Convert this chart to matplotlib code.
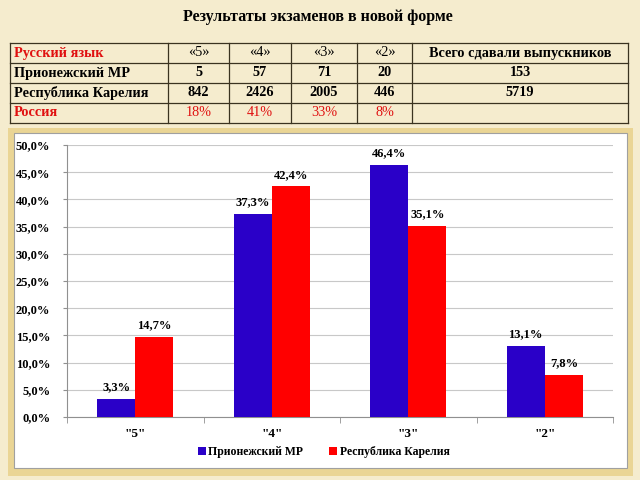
import matplotlib
matplotlib.use("Agg")
import matplotlib.pyplot as plt
from matplotlib.patches import Rectangle
import numpy as np

plt.rcParams['font.family'] = ['Liberation Serif', 'DejaVu Serif']

title = "Результаты экзаменов в новой форме"

# таблица
header = ["Русский язык", "«5»", "«4»", "«3»", "«2»", "Всего сдавали выпускников"]
row_mr = ["Прионежский МР", "5", "57", "71", "20", "153"]
row_kar = ["Республика Карелия", "842", "2426", "2005", "446", "5719"]
row_rus = ["Россия", "18%", "41%", "33%", "8%", ""]

# диаграмма
categories = ['"5"', '"4"', '"3"', '"2"']
series_names = ["Прионежский МР", "Республика Карелия"]
mr_values = [3.3, 37.3, 46.4, 13.1]
kar_values = [14.7, 42.4, 35.1, 7.8]

bg = "#f5ecce"
blue = "#2a00c8"
red = "#ff0000"

fig = plt.figure(figsize=(6.4, 4.8), dpi=100)
fig.patch.set_facecolor(bg)

# слой в пиксельных координатах
ov = fig.add_axes([0, 0, 1, 1])
ov.set_xlim(0, 640)
ov.set_ylim(480, 0)
ov.axis("off")

ov.text(318, 17, title, ha="center", va="center", fontsize=11.5, fontweight="bold")

col_x = [10, 168, 229, 291, 357, 412, 628]
row_y = [43, 63, 83, 103, 123]
for x in col_x:
    ov.plot([x, x], [row_y[0], row_y[-1]], color="#3a3320", lw=0.9)
for y in row_y:
    ov.plot([col_x[0], col_x[-1]], [y, y], color="#3a3320", lw=0.9)

rows = [header, row_mr, row_kar, row_rus]
for i, row in enumerate(rows):
    yc = (row_y[i] + row_y[i + 1]) / 2
    for j, txt in enumerate(row):
        if txt == "":
            continue
        if i == 3 or (i == 0 and j == 0):
            color = "#e01010"
        else:
            color = "black"
        weight = "normal" if (i == 0 and 1 <= j <= 4) or (i == 3 and j > 0) else "bold"
        if j == 0:
            ov.text(col_x[0] + 4, yc, txt, ha="left", va="center", fontsize=10.3,
                    fontweight="bold", color=color)
        else:
            ov.text((col_x[j] + col_x[j + 1]) / 2, yc, txt, ha="center", va="center",
                    fontsize=10.3, fontweight=weight, color=color)

# рамка диаграммы
ov.add_patch(Rectangle((8, 128), 625, 348, facecolor="#ead595", edgecolor="none"))
ov.add_patch(Rectangle((14, 133), 613, 335, facecolor="white", edgecolor="#a0a0a0", lw=0.8))

ax = fig.add_axes([67 / 640, (480 - 417) / 480, 546 / 640, 272 / 480])
ax.set_facecolor("white")
x = np.arange(len(categories))
w = 0.28
b1 = ax.bar(x - w / 2, mr_values, w, color=blue, label=series_names[0], zorder=3)
b2 = ax.bar(x + w / 2, kar_values, w, color=red, label=series_names[1], zorder=3)

for bars, vals in [(b1, mr_values), (b2, kar_values)]:
    for bar, v in zip(bars, vals):
        ax.text(bar.get_x() + bar.get_width() / 2, v + 1.0,
                f"{v:.1f}%".replace(".", ","), ha="center", va="bottom",
                fontsize=9, fontweight="bold")

ax.set_xlim(-0.5, 3.5)
ax.set_ylim(0, 50)
ax.set_yticks(np.arange(0, 51, 5))
ax.set_yticklabels([f"{v:.1f}%".replace(".", ",") for v in np.arange(0, 51, 5)],
                   fontsize=9, fontweight="bold")
ax.set_xticks(x)
ax.set_xticklabels(categories, fontsize=9.5, fontweight="bold")
ax.set_xticks(np.arange(-0.5, 4, 1), minor=True)
ax.tick_params(axis="x", which="major", length=0, pad=8)
ax.tick_params(axis="x", which="minor", length=4, color="#909090", direction="out")
ax.tick_params(axis="y", length=3, color="#909090", pad=9)
ax.grid(axis="y", color="#c8c8c8", lw=0.8, zorder=0)
for s in ["top", "right"]:
    ax.spines[s].set_visible(False)
ax.spines["left"].set_color("#909090")
ax.spines["bottom"].set_color("#909090")

ax.legend(loc="center", bbox_to_anchor=(0.47, -0.13), ncol=2, frameon=False,
          prop={"size": 8.5, "weight": "bold"}, handlelength=0.7, handleheight=0.7,
          handletextpad=0.2, columnspacing=2.2)

fig.savefig("out.png", dpi=100, facecolor=bg)
